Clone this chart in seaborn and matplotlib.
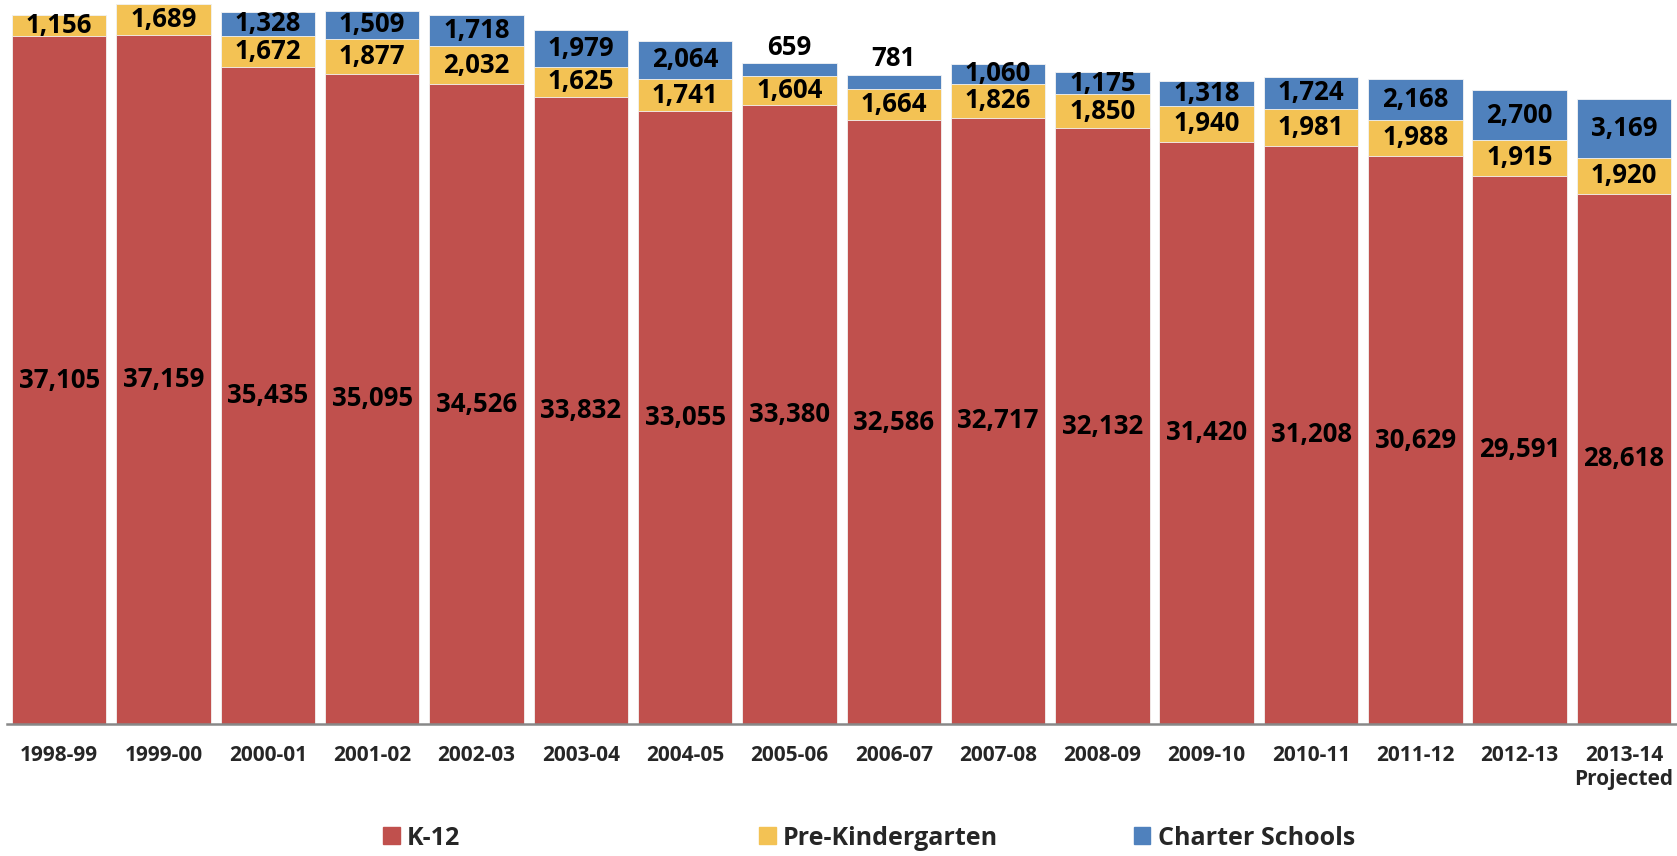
import matplotlib
matplotlib.use("Agg")
import matplotlib.pyplot as plt
import seaborn as sns
import numpy as np
import pandas as pd
from matplotlib.patches import Patch

years = ["1998-99", "1999-00", "2000-01", "2001-02", "2002-03", "2003-04", "2004-05",
         "2005-06", "2006-07", "2007-08", "2008-09", "2009-10", "2010-11", "2011-12",
         "2012-13", "2013-14\nProjected"]
k12 = [37105, 37159, 35435, 35095, 34526, 33832, 33055, 33380, 32586, 32717, 32132,
       31420, 31208, 30629, 29591, 28618]
prek = [1156, 1689, 1672, 1877, 2032, 1625, 1741, 1604, 1664, 1826, 1850, 1940, 1981,
        1988, 1915, 1920]
charter = [0, 0, 1328, 1509, 1718, 1979, 2064, 659, 781, 1060, 1175, 1318, 1724, 2168,
           2700, 3169]
series_names = ["K-12", "Pre-Kindergarten", "Charter Schools"]

RED = "#C0504D"
YELLOW = "#F3C254"
BLUE = "#4F81BD"

sns.set_style("white")
plt.rcParams["font.family"] = ["Open Sans", "DejaVu Sans"]

df = pd.DataFrame({"year": years, "k12": k12, "prek": prek, "charter": charter})
df["lvl2"] = df["k12"] + df["prek"]
df["total"] = df["lvl2"] + df["charter"]

fig = plt.figure(figsize=(16.77, 8.56), dpi=100)
ax = fig.add_axes([0.0042, 0.154, 0.9953, 0.846])

W = 0.906
edge = dict(edgecolor="#f4f4f4", linewidth=0.6)
sns.barplot(data=df, x="year", y="total", color=BLUE, width=W, ax=ax, saturation=1, **edge)
sns.barplot(data=df, x="year", y="lvl2", color=YELLOW, width=W, ax=ax, saturation=1, **edge)
sns.barplot(data=df, x="year", y="k12", color=RED, width=W, ax=ax, saturation=1, **edge)

fs = 18.5
for i in range(len(years)):
    ax.text(i, k12[i] / 2, f"{k12[i]:,}", ha="center", va="center",
            fontsize=fs, fontweight="bold", color="black")
    ax.text(i, k12[i] + prek[i] / 2, f"{prek[i]:,}", ha="center", va="center",
            fontsize=fs, fontweight="bold", color="black")
    if charter[i] > 0:
        if charter[i] < 900:
            ax.text(i, df["total"][i] + 150, f"{charter[i]:,}", ha="center", va="bottom",
                    fontsize=fs, fontweight="bold", color="black")
        else:
            ax.text(i, df["lvl2"][i] + charter[i] / 2, f"{charter[i]:,}", ha="center",
                    va="center", fontsize=fs, fontweight="bold", color="black")

ax.set_xlim(-0.5, 15.5)
ax.set_ylim(0, 39063)
ax.set_xlabel("")
ax.set_ylabel("")
ax.set_yticks([])
for s in ["top", "right", "left"]:
    ax.spines[s].set_visible(False)
ax.spines["bottom"].set_color("#888888")
ax.spines["bottom"].set_linewidth(1.8)
ax.tick_params(axis="x", length=0, pad=15, labelsize=15)
for lab in ax.get_xticklabels():
    lab.set_fontweight("bold")
    lab.set_multialignment("center")

colors = [RED, YELLOW, BLUE]
xs = [0.2285, 0.4526, 0.676]
for name, c, x in zip(series_names, colors, xs):
    fig.legend(handles=[Patch(facecolor=c, edgecolor=c, label=name)], loc="center left",
               bbox_to_anchor=(x, 0.021), frameon=False, prop={"size": 18, "weight": "bold"},
               handlelength=0.66, handleheight=0.66, handletextpad=0.3,
               borderpad=0, borderaxespad=0)

fig.savefig("out.png", dpi=100)
